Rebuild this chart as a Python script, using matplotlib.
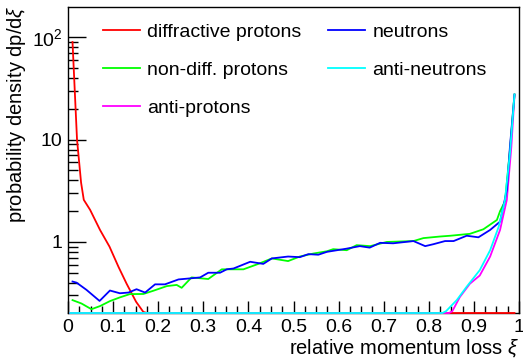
import numpy as np
import matplotlib
matplotlib.use("Agg")
import matplotlib.pyplot as plt
from matplotlib.ticker import FixedLocator, FixedFormatter, LogLocator, MultipleLocator, NullFormatter

plt.rcParams['font.family'] = ['Liberation Sans', 'DejaVu Sans']
plt.rcParams['mathtext.fontset'] = 'custom'
plt.rcParams['mathtext.rm'] = 'Liberation Sans'
plt.rcParams['mathtext.it'] = 'Liberation Sans:italic'

# values (xi, dp/dxi); 0 means empty bin
diff_x = [0.01, 0.02, 0.029, 0.035, 0.049, 0.071, 0.092, 0.112, 0.130, 0.151, 0.167, 0.175, 0.99]
diff_y = [90, 10, 3.8, 2.58, 2.06, 1.31, 0.90, 0.57, 0.39, 0.26, 0.207, 0, 0]

nondiff_x = [0.01, 0.03, 0.052, 0.071, 0.093, 0.115, 0.137, 0.167, 0.189, 0.219, 0.241, 0.252,
             0.274, 0.311, 0.341, 0.389, 0.422, 0.452, 0.488, 0.514, 0.544, 0.574, 0.588, 0.618,
             0.64, 0.67, 0.707, 0.766, 0.788, 0.825, 0.848, 0.891, 0.921, 0.951, 0.958, 0.969,
             0.98, 0.99]
nondiff_y = [0.27, 0.25, 0.22, 0.236, 0.264, 0.287, 0.309, 0.31, 0.333, 0.37, 0.38, 0.356,
             0.45, 0.434, 0.54, 0.54, 0.61, 0.69, 0.65, 0.72, 0.77, 0.81, 0.85, 0.83,
             0.93, 0.91, 1.0, 1.02, 1.09, 1.13, 1.15, 1.2, 1.33, 1.64, 2.0, 2.5,
             8.0, 27.6]

antip_x = [0.005, 0.845, 0.852, 0.869, 0.891, 0.913, 0.936, 0.958, 0.973, 0.983, 0.99]
antip_y = [0, 0, 0.21, 0.29, 0.39, 0.47, 0.72, 1.31, 2.58, 8.5, 27.0]

neut_x = [0.01, 0.019, 0.041, 0.070, 0.093, 0.115, 0.134, 0.152, 0.171, 0.193, 0.215, 0.245,
          0.27, 0.293, 0.311, 0.337, 0.352, 0.367, 0.404, 0.433, 0.452, 0.488, 0.514, 0.533,
          0.555, 0.574, 0.618, 0.647, 0.669, 0.692, 0.721, 0.766, 0.792, 0.81, 0.836, 0.855,
          0.884, 0.91, 0.936, 0.958, 0.965, 0.973, 0.98, 0.99]
neut_y = [0.41, 0.40, 0.34, 0.265, 0.335, 0.315, 0.32, 0.345, 0.32, 0.385, 0.385, 0.43,
          0.44, 0.45, 0.50, 0.50, 0.54, 0.55, 0.64, 0.61, 0.69, 0.72, 0.71, 0.76,
          0.75, 0.80, 0.86, 0.91, 0.88, 0.98, 0.97, 1.02, 0.91, 0.95, 1.02, 1.02,
          1.15, 1.11, 1.31, 1.58, 2.2, 3.2, 8.6, 27.6]

antin_x = [0.005, 0.83, 0.838, 0.862, 0.884, 0.913, 0.936, 0.955, 0.969, 0.98, 0.99]
antin_y = [0, 0, 0.21, 0.27, 0.365, 0.53, 0.83, 1.41, 2.58, 7.4, 27.6]

series = [
    ("diffractive protons", diff_x, diff_y, "#ff0000"),
    ("non-diff. protons", nondiff_x, nondiff_y, "#00ff00"),
    ("anti-protons", antip_x, antip_y, "#ff00ff"),
    ("neutrons", neut_x, neut_y, "#0000ff"),
    ("anti-neutrons", antin_x, antin_y, "#00ffff"),
]

ylo, yhi = 0.202, 198

fig = plt.figure(figsize=(5.23, 3.58), dpi=100)
ax = fig.add_axes([68 / 523, 1 - 313 / 358, 451 / 523, 306 / 358])

for label, xs, ys, col in series:
    yy = np.maximum(np.array(ys, dtype=float), ylo)
    ax.plot(xs, yy, color=col, lw=1.3, label=label, clip_on=False, zorder=3)

ax.set_yscale("log")
ax.set_xlim(0, 1)
ax.set_ylim(ylo, yhi)

ax.yaxis.set_major_locator(FixedLocator([1, 10, 100]))
ax.yaxis.set_major_formatter(FixedFormatter(["1", "10", "$10^{2}$"]))
ax.yaxis.set_minor_locator(LogLocator(base=10, subs=np.arange(2, 10)))
ax.yaxis.set_minor_formatter(NullFormatter())
ax.xaxis.set_minor_locator(MultipleLocator(0.025))
ax.set_xticks([0, 0.1, 0.2, 0.3, 0.4, 0.5, 0.6, 0.7, 0.8, 0.9, 1.0])
ax.set_xticklabels(["0", "0.1", "0.2", "0.3", "0.4", "0.5", "0.6", "0.7", "0.8", "0.9", "1"])

ax.tick_params(axis="y", which="major", direction="in", length=13, width=1, labelsize=14, pad=4)
ax.tick_params(axis="y", which="minor", direction="in", length=7, width=1)
ax.tick_params(axis="x", which="major", direction="in", length=9, width=1, labelsize=14, pad=4)
ax.tick_params(axis="x", which="minor", direction="in", length=5, width=1)
for s in ax.spines.values():
    s.set_linewidth(1)

ax.set_xlabel(r"relative momentum loss $\xi$", fontsize=14.5, loc="right")
ax.set_ylabel(r"probability density dp/d$\xi$", fontsize=14.5, loc="top")
ax.xaxis.set_label_coords(1.0, -0.08)
ax.yaxis.set_label_coords(-0.089, 1.0065)

ax.legend(loc="upper left", bbox_to_anchor=(103 / 523, 1 - 23 / 358), bbox_transform=fig.transFigure,
          ncol=2, frameon=False, fontsize=14, handlelength=1.9, handletextpad=0.36,
          labelspacing=1.05, columnspacing=1.4, borderpad=0, borderaxespad=0)

fig.savefig("out.png", dpi=100)
